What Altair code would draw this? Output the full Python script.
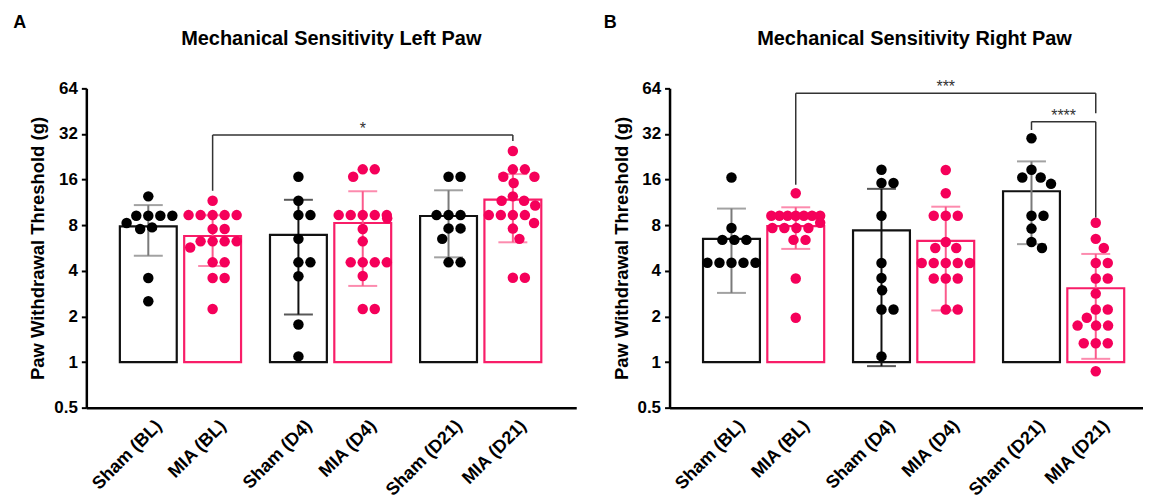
import math
import altair as alt
import pandas as pd

# ---------------- data ----------------
groups = ["Sham (BL)", "MIA (BL)", "Sham (D4)", "MIA (D4)", "Sham (D21)", "MIA (D21)"]
cohorts = ["Sham", "MIA", "Sham", "MIA", "Sham", "MIA"]

# Left paw individual thresholds (g)
left_sham_bl = [12.4, 9.24, 9.24, 9.24, 9.24, 8.27, 7.74, 7.55, 3.59, 2.52]
left_mia_bl = [11.6, 9.33, 9.33, 9.33, 9.33, 9.33, 7.55, 7.55, 6.26, 6.26, 6.26, 6.26,
               5.7, 4.55, 4.55, 3.59, 3.59, 2.24]
left_sham_d4 = [16.7, 11.6, 9.33, 9.33, 6.5, 4.55, 4.55, 3.68, 1.77, 1.09]
left_mia_d4 = [18.7, 18.7, 16.7, 9.33, 9.33, 9.33, 9.33, 9.33, 8.9, 7.55, 6.26,
               4.55, 4.55, 4.55, 4.55, 3.7, 2.24, 2.24]
left_sham_d21 = [16.7, 16.7, 9.33, 9.33, 9.33, 7.62, 7.62, 6.5, 4.55, 4.55]
left_mia_d21 = [24.7, 18.7, 18.7, 16.7, 16.7, 15.2, 12.4, 11.6, 11.6, 10.8, 9.33, 9.33,
                9.33, 9.33, 8.27, 7.6, 6.5, 3.6, 3.6]
left_mean = [7.86, 6.79, 6.9, 8.27, 9.2, 11.8]
left_err_hi = [10.86, 9.3, 11.77, 13.4, 13.6, 17.4]
left_err_lo = [5.03, 4.3, 2.06, 3.18, 4.91, 6.17]

# Right paw individual thresholds (g)
right_sham_bl = [16.5, 7.67, 6.4, 6.4, 6.4, 4.52, 4.52, 4.52, 4.52, 4.52]
right_mia_bl = [13.0, 9.24, 9.24, 9.24, 9.24, 9.24, 9.24, 9.24, 8.3, 7.67, 7.67, 7.67,
                7.67, 6.4, 6.4, 3.56, 1.96]
right_sham_d4 = [18.6, 15.2, 15.2, 9.24, 4.5, 3.59, 2.98, 2.22, 2.22, 1.09]
right_mia_d4 = [18.5, 13.0, 9.24, 9.24, 9.24, 6.2, 5.66, 5.66, 4.5, 4.5, 4.5, 4.5, 4.5,
                3.56, 3.56, 3.56, 2.22, 2.22]
right_sham_d21 = [30.0, 18.6, 16.5, 16.5, 15.0, 9.24, 9.24, 7.6, 6.2, 5.66]
right_mia_d21 = [8.3, 6.5, 5.66, 4.5, 4.5, 3.56, 3.56, 2.83, 2.22, 2.22, 1.96, 1.74,
                 1.74, 1.74, 1.33, 1.33, 1.33, 0.87]
right_mean = [6.5, 7.9, 7.4, 6.3, 13.4, 3.07]
right_err_hi = [10.3, 10.5, 13.9, 10.6, 21.1, 5.17]
right_err_lo = [2.86, 5.58, 0.94, 2.19, 6.0, 1.05]

# Significance brackets
left_br_from = ["MIA (BL)"]
left_br_to = ["MIA (D21)"]
left_br_top = [31.5]
left_br_from_end = [13.5]
left_br_to_end = [28.8]
left_br_label = ["*"]

right_br_from = ["MIA (BL)", "Sham (D21)"]
right_br_to = ["MIA (D21)", "MIA (D21)"]
right_br_top = [59.4, 38.6]
right_br_from_end = [14.8, 34.0]
right_br_to_end = [43.9, 9.0]
right_br_label = ["***", "****"]

y_ticks = [0.5, 1, 2, 4, 8, 16, 32, 64]

# ---------------- layout / style ----------------
UNIT_PX = 65.8          # px between the two bars of a pair
GROUP_STEP = 2.334      # pair-to-pair step in bar units
FIRST = 0.886           # first bar centre offset from the y axis (bar units)
H = 320
PX_PER_DOUBLING = H / 7.0
W_LEFT = 491
W_RIGHT = 474
PINK = "#F5005A"
PINK_BAR = "#F81D68"
PINK_ERR = "#FB5A8C"
FONT = "Liberation Sans"


def position(i):
    return (i // 2) * GROUP_STEP + (i % 2)


positions = [position(i) for i in range(len(groups))]


def swarm(values, d=12.3, maxhalf=25.0):
    n = len(values)
    order = sorted(range(n), key=lambda k: -values[k])
    placed = []
    xs = [0.0] * n
    for k in order:
        y = math.log2(values[k]) * PX_PER_DOUBLING
        cands = [0.0]
        for px, py in placed:
            dy = abs(py - y)
            if dy < d:
                dx = math.sqrt(d * d - dy * dy)
                cands += [px + dx, px - dx]
        valid = [c for c in cands
                 if all((c - px) ** 2 + (y - py) ** 2 >= d * d - 1e-6 for px, py in placed)]
        best = min(valid, key=lambda c: (round(abs(c), 6), -c))
        xs[k] = best
        placed.append((best, y))
    # compress wide rows of identical values
    for v in set(values):
        idx = [k for k in range(n) if values[k] == v]
        m = max(abs(xs[k]) for k in idx)
        if m > maxhalf:
            for k in idx:
                xs[k] *= maxhalf / m
    return xs


def points_frame(series):
    rows = []
    for i, vals in enumerate(series):
        offs = swarm(vals)
        for v, o in zip(vals, offs):
            rows.append({"group": groups[i], "cohort": cohorts[i], "value": v,
                         "x": positions[i] + o / UNIT_PX,
                         "dcol": PINK if cohorts[i] == "MIA" else "black"})
    return pd.DataFrame(rows)


def bars_frame(mean, hi, lo):
    rows = []
    for i in range(len(groups)):
        if cohorts[i] == "MIA":
            ecol = PINK_ERR
        elif groups[i] == "Sham (D4)":
            ecol = "#111111"
        else:
            ecol = "#7a7a7a"
        rows.append({"group": groups[i], "pos": positions[i], "mean": mean[i],
                     "hi": hi[i], "lo": lo[i],
                     "bcol": PINK_BAR if cohorts[i] == "MIA" else "#111111",
                     "ecol": ecol})
    return pd.DataFrame(rows)


def bracket_frames(frm, to, top, frm_end, to_end, labels):
    segs, labs = [], []
    for f, t, tp, fe, te, lb in zip(frm, to, top, frm_end, to_end, labels):
        x1 = positions[groups.index(f)]
        x2 = positions[groups.index(t)]
        segs.append({"x1": x1, "x2": x2, "y1": tp, "y2": tp})
        segs.append({"x1": x1, "x2": x1, "y1": fe, "y2": tp})
        segs.append({"x1": x2, "x2": x2, "y1": te, "y2": tp})
        labs.append({"xc": (x1 + x2) / 2, "top": tp, "label": lb})
    return pd.DataFrame(segs), pd.DataFrame(labs)


label_expr = ""
for i, g in enumerate(groups):
    if i < len(groups) - 1:
        label_expr += f"datum.value < {positions[i] + 0.5} ? '{g}' : "
    else:
        label_expr += f"'{g}'"


def panel(series, mean, hi, lo, brk, title, letter, letter_dx, width):
    xscale = alt.Scale(domain=[-FIRST, -FIRST + width / UNIT_PX], nice=False, zero=False)
    yscale = alt.Scale(type="log", base=2, domain=[0.5, 64], nice=False)
    xaxis = alt.Axis(values=positions, labelExpr=label_expr, labelAngle=-45, ticks=False,
                     title=None, grid=False, labelFontSize=18, labelFont=FONT,
                     labelFontWeight="bold", labelColor="black", domainWidth=2.5,
                     domainColor="black", labelPadding=9, labelOffset=4,
                     labelOverlap=False, labelBound=False, labelFlush=False)
    yaxis = alt.Axis(values=y_ticks, format="~g", title="Paw Withdrawal Threshold (g)",
                     grid=False, labelFontSize=17, labelFont=FONT, labelFontWeight="bold",
                     labelColor="black", titleFont=FONT, titleFontSize=18.5,
                     titleFontWeight="bold", titleColor="black", titlePadding=6,
                     tickSize=5, tickWidth=2, tickColor="black", domainWidth=2.5,
                     domainColor="black", labelPadding=4, labelOverlap=False)

    def X(f):
        return alt.X(f, type="quantitative", scale=xscale, axis=xaxis)

    def Y(f):
        return alt.Y(f, type="quantitative", scale=yscale, axis=yaxis)

    bdf = bars_frame(mean, hi, lo)
    pdf = points_frame(series)
    seg, lab = bracket_frames(*brk)
    base = alt.Chart(bdf)
    bars = base.mark_bar(size=57, fill="white", strokeWidth=2.2).encode(
        x=X("pos"), y=Y("mean"), y2=alt.datum(1),
        stroke=alt.Color("bcol:N", scale=None))
    err = base.mark_rule(strokeWidth=2).encode(
        x=X("pos"), y=Y("lo"), y2="hi:Q", color=alt.Color("ecol:N", scale=None))
    cap_hi = base.mark_tick(orient="horizontal", size=29, thickness=2).encode(
        x=X("pos"), y=Y("hi"), color=alt.Color("ecol:N", scale=None))
    cap_lo = base.mark_tick(orient="horizontal", size=29, thickness=2).encode(
        x=X("pos"), y=Y("lo"), color=alt.Color("ecol:N", scale=None))
    dots = alt.Chart(pdf).mark_circle(size=110, opacity=1).encode(
        x=X("x"), y=Y("value"), color=alt.Color("dcol:N", scale=None))
    brules = alt.Chart(seg).mark_rule(color="#333333", strokeWidth=1.5).encode(
        x=X("x1"), x2="x2:Q", y=Y("y1"), y2="y2:Q")
    stars = alt.Chart(lab).mark_text(fontSize=16, font=FONT, color="#333333",
                                     baseline="alphabetic", dy=-1).encode(
        x=X("xc"), y=Y("top"), text="label:N")
    ttl = alt.Chart(pd.DataFrame({"t": [title]})).mark_text(
        font=FONT, fontSize=20, fontWeight="bold", color="black",
        align="center", baseline="alphabetic").encode(
        x=alt.value(W_LEFT / 2), y=alt.value(-43.3), text="t:N")
    let = alt.Chart(pd.DataFrame({"t": [letter]})).mark_text(
        font=FONT, fontSize=18, fontWeight="bold", color="black",
        align="left", baseline="alphabetic").encode(
        x=alt.value(letter_dx), y=alt.value(-60.7), text="t:N")
    return alt.layer(bars, err, cap_hi, cap_lo, dots, brules, stars, ttl, let).properties(
        width=width, height=H)


left = panel([left_sham_bl, left_mia_bl, left_sham_d4, left_mia_d4, left_sham_d21, left_mia_d21],
             left_mean, left_err_hi, left_err_lo,
             (left_br_from, left_br_to, left_br_top, left_br_from_end, left_br_to_end, left_br_label),
             "Mechanical Sensitivity Left Paw", "A", -73.2, W_LEFT)
right = panel([right_sham_bl, right_mia_bl, right_sham_d4, right_mia_d4, right_sham_d21, right_mia_d21],
              right_mean, right_err_hi, right_err_lo,
              (right_br_from, right_br_to, right_br_top, right_br_from_end, right_br_to_end, right_br_label),
              "Mechanical Sensitivity Right Paw", "B", -66, W_RIGHT)

chart = alt.hconcat(left, right, spacing=27.5).properties(
    padding={"left": 4.5, "top": 5, "right": 0, "bottom": 0},
    background="white",
).configure_view(stroke=None)

chart.save("out.html", embed_options={"renderer": "svg", "actions": False})
